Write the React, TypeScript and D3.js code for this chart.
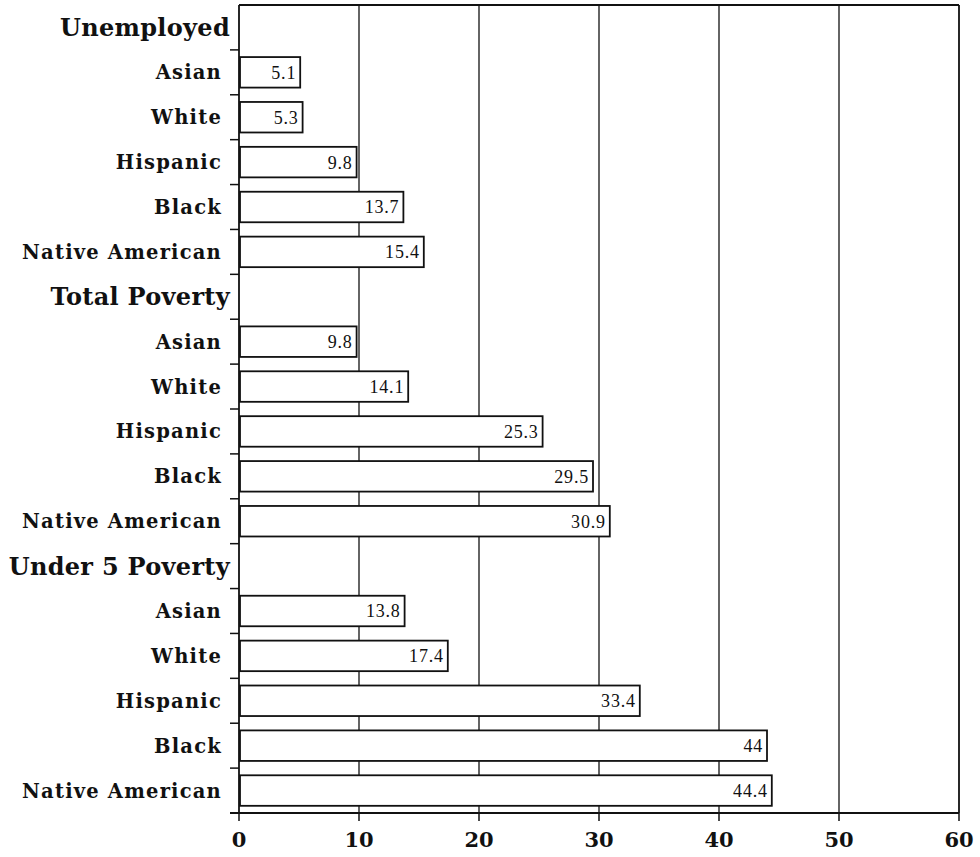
import React from "react";
import * as d3 from "d3";

// Row labels, top to bottom; group headers have no value
const groups = ["Unemployed", "Total Poverty", "Under 5 Poverty"];
const races = ["Asian", "White", "Hispanic", "Black", "Native American"];

// Rates (%) for each group, in the order of `races`
const unemployed = [5.1, 5.3, 9.8, 13.7, 15.4];
const totalPoverty = [9.8, 14.1, 25.3, 29.5, 30.9];
const under5Poverty = [13.8, 17.4, 33.4, 44, 44.4];

const xTicks = [0, 10, 20, 30, 40, 50, 60];

type Row = { key: string; label: string; header: boolean; value?: number };

const seriesByGroup = [unemployed, totalPoverty, under5Poverty];
const rows: Row[] = [];
groups.forEach((g, gi) => {
  rows.push({ key: g, label: g, header: true });
  races.forEach((r, ri) => {
    rows.push({ key: `${g}|${r}`, label: r, header: false, value: seriesByGroup[gi][ri] });
  });
});

const W = 980;
const H = 857;
const left = 239;
const right = 959;
const top = 5;
const bottom = 813;

const SERIF = "'DejaVu Serif', 'Liberation Serif', serif";
const VALUE_FONT = "'Liberation Serif', 'Times New Roman', serif";

export default function App() {
  const x = d3.scaleLinear().domain([0, 60]).range([left, right]);
  const y = d3
    .scaleBand<string>()
    .domain(rows.map((r) => r.key))
    .range([top, bottom])
    .paddingInner(0.32)
    .paddingOuter(0.16);
  const step = y.step();
  const bw = y.bandwidth();
  const boundary = (k: string) => (y(k) as number) - (step * 0.32) / 2;

  return (
    <svg
      width={W}
      height={H}
      style={{ position: "absolute", left: 0, top: 0, background: "#fff" }}
    >
      <rect x={0} y={0} width={W} height={H} fill="#fff" />

      {/* vertical grid lines */}
      {xTicks.slice(1, -1).map((t) => (
        <line key={t} x1={x(t)} x2={x(t)} y1={top} y2={bottom} stroke="#111" strokeWidth={1.3} />
      ))}

      {/* bars */}
      {rows
        .filter((r) => !r.header)
        .map((r) => {
          const y0 = y(r.key) as number;
          const x1 = x(r.value as number);
          return (
            <g key={r.key}>
              <rect
                x={x(0) + 1}
                y={y0}
                width={x1 - x(0) - 1}
                height={bw}
                fill="#fff"
                stroke="#111"
                strokeWidth={1.8}
              />
              <text
                x={x1 - 4}
                y={y0 + bw / 2}
                dy="0.36em"
                textAnchor="end"
                fontFamily={VALUE_FONT}
                fontSize={18}
                letterSpacing={0.8}
                fill="#111"
              >
                {String(r.value)}
              </text>
            </g>
          );
        })}

      {/* frame: top and right edges */}
      <line x1={left} x2={right} y1={top} y2={top} stroke="#111" strokeWidth={1.8} />
      <line x1={right} x2={right} y1={top} y2={bottom} stroke="#111" strokeWidth={1.8} />

      {/* left axis with ticks at row boundaries */}
      <line x1={left} x2={left} y1={top} y2={bottom} stroke="#111" strokeWidth={1.8} />
      {rows.slice(1).map((r) => (
        <line
          key={r.key}
          x1={left - 9}
          x2={left}
          y1={boundary(r.key)}
          y2={boundary(r.key)}
          stroke="#111"
          strokeWidth={1.5}
        />
      ))}

      {/* bottom axis */}
      <line x1={left - 9} x2={right} y1={bottom} y2={bottom} stroke="#111" strokeWidth={1.8} />
      {xTicks.map((t) => (
        <g key={t}>
          <line x1={x(t)} x2={x(t)} y1={bottom} y2={bottom + 8} stroke="#111" strokeWidth={1.5} />
          <text
            x={x(t)}
            y={bottom + 34}
            textAnchor="middle"
            fontFamily={SERIF}
            fontWeight="bold"
            fontSize={21}
            fill="#111"
          >
            {t}
          </text>
        </g>
      ))}

      {/* row labels */}
      {rows.map((r) => (
        <text
          key={r.key}
          x={r.header ? left - 9 : left - 17}
          y={(y(r.key) as number) + bw / 2}
          dy="0.36em"
          textAnchor="end"
          fontFamily={SERIF}
          fontWeight="bold"
          fontSize={r.header ? 24 : 19.5}
          letterSpacing={r.header ? 0.3 : 1.2}
          fill="#111"
        >
          {r.label}
        </text>
      ))}
    </svg>
  );
}
